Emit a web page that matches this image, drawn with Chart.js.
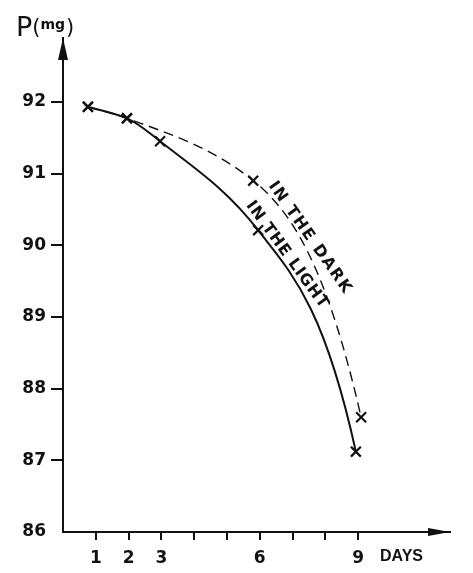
<!DOCTYPE html>
<html>
<head>
<meta charset="utf-8">
<script src="https://cdn.jsdelivr.net/npm/chart.js@4.4.1/dist/chart.umd.min.js"></script>
<style>
  html, body { margin: 0; padding: 0; background: #fff; }
  #wrap { width: 473px; height: 573px; position: relative; }
</style>
</head>
<body>
<div id="wrap"><canvas id="chart" width="473" height="573"></canvas></div>
<script>
// DATA
const lightDays = [0.76, 1.95, 2.96, 5.95, 8.93];
const lightMass = [91.93, 91.77, 91.45, 90.21, 87.12];
const darkDays = [0.76, 1.95, 5.8, 9.09];
const darkMass = [91.93, 91.77, 90.9, 87.6];
const dayTicks = [1, 2, 3, 4, 5, 6, 7, 8, 9];
const dayLabels = [1, 2, 3, 6, 9];
const massTicks = [86, 87, 88, 89, 90, 91, 92];

const INK = '#111';
const END_STEEPEN = 2.0; // hand-drawn curves bend down hard at the last point

// redo the bezier handles so the curves bow like the drawing
// (harmonic mean tangents inside, steeper tangent at the end)
const smoothCurves = {
  id: 'smoothCurves',
  beforeDatasetDraw(chart, args) {
    const line = args.meta.dataset;
    line.updateControlPoints(chart.chartArea);
    const pts = line.points;
    const n = pts.length;
    const sec = [];
    for (let i = 0; i < n - 1; i++) {
      sec.push((pts[i + 1].y - pts[i].y) / (pts[i + 1].x - pts[i].x));
    }
    const m = pts.map((p, i) => {
      if (i === 0) return sec[0];
      if (i === n - 1) return sec[n - 2] * END_STEEPEN;
      const a = sec[i - 1], b = sec[i];
      return a * b > 0 ? 2 * a * b / (a + b) : 0;
    });
    pts.forEach((p, i) => {
      if (i > 0) {
        const h = p.x - pts[i - 1].x;
        p.cp1x = p.x - h / 3;
        p.cp1y = p.y - m[i] * h / 3;
      }
      if (i < n - 1) {
        const h = pts[i + 1].x - p.x;
        p.cp2x = p.x + h / 3;
        p.cp2y = p.y + m[i] * h / 3;
      }
    });
  }
};

// axis arrows + axis titles + curve labels
const extras = {
  id: 'extras',
  afterDraw(chart) {
    const c = chart.ctx, a = chart.chartArea;
    c.save();
    c.fillStyle = INK;
    // y arrow
    c.beginPath();
    c.moveTo(a.left, a.top);
    c.lineTo(a.left - 5, a.top + 22);
    c.lineTo(a.left + 5, a.top + 22);
    c.closePath();
    c.fill();
    // x arrow
    c.beginPath();
    c.moveTo(a.right, a.bottom);
    c.lineTo(a.right - 22, a.bottom - 4);
    c.lineTo(a.right - 22, a.bottom + 4);
    c.closePath();
    c.fill();

    // P(mg)
    c.textBaseline = 'alphabetic';
    c.textAlign = 'left';
    let x = 16;
    c.font = '27px "DejaVu Sans"';
    c.fillText('P', x, 36);
    x += c.measureText('P').width;
    c.font = '21px "DejaVu Sans"';
    c.fillText('(', x, 34);
    x += c.measureText('(').width;
    c.font = 'bold 14px "DejaVu Sans"';
    c.fillText('mg', x, 29);
    x += c.measureText('mg').width + 1;
    c.font = '21px "DejaVu Sans"';
    c.fillText(')', x, 34);

    // DAYS
    c.font = 'bold 16px "Liberation Sans"';
    c.textBaseline = 'middle';
    c.fillText('DAYS', 380, 557);

    // curve labels
    const label = (txt, cx, cy, ang, spacing) => {
      c.save();
      c.translate(cx, cy);
      c.rotate(ang * Math.PI / 180);
      c.font = 'bold 16px "DejaVu Sans"';
      c.letterSpacing = spacing + 'px';
      c.textAlign = 'center';
      c.textBaseline = 'middle';
      c.fillText(txt, 0, 0);
      c.restore();
    };
    label('IN THE DARK', 310, 238, 55, 1.6);
    label('IN THE LIGHT', 287, 255, 54, 0.8);
    c.restore();
  }
};

new Chart(document.getElementById('chart'), {
  type: 'line',
  data: {
    datasets: [
      {
        label: 'In the light',
        data: lightDays.map((d, i) => ({ x: d, y: lightMass[i] })),
        borderColor: INK,
        borderWidth: 2,
        tension: 0.4,
        pointStyle: 'crossRot',
        pointRadius: 7,
        pointBorderWidth: 2.2,
        pointBorderColor: INK
      },
      {
        label: 'In the dark',
        data: darkDays.map((d, i) => ({ x: d, y: darkMass[i] })),
        borderColor: INK,
        borderWidth: 1.4,
        borderDash: [10, 6],
        tension: 0.4,
        pointStyle: 'crossRot',
        pointRadius: 7,
        pointBorderWidth: 2.2,
        pointBorderColor: INK
      }
    ]
  },
  options: {
    responsive: false,
    animation: false,
    devicePixelRatio: 1,
    layout: { padding: { top: 38, right: 23, left: 0, bottom: 0 } },
    plugins: { legend: { display: false }, tooltip: { enabled: false } },
    scales: {
      x: {
        type: 'linear',
        min: 0,
        max: 11.8,
        afterFit: s => { s.height = 41; },
        afterBuildTicks: s => { s.ticks = dayTicks.map(v => ({ value: v })); },
        border: { display: true, color: INK, width: 2 },
        grid: { drawOnChartArea: false, drawTicks: true, tickLength: 8, color: INK, lineWidth: 2 },
        ticks: {
          autoSkip: false,
          maxRotation: 0,
          padding: 8,
          color: INK,
          font: { family: 'DejaVu Sans', size: 17, weight: 'bold' },
          callback: v => dayLabels.includes(v) ? String(v) : ''
        }
      },
      y: {
        min: 86,
        max: 92.89,
        afterFit: s => { s.width = 63; },
        afterBuildTicks: s => { s.ticks = massTicks.map(v => ({ value: v })); },
        border: { display: true, color: INK, width: 2 },
        grid: {
          drawOnChartArea: false, drawTicks: true, tickLength: 12, lineWidth: 2,
          color: ctx => (ctx.tick && ctx.tick.value === 86) ? 'rgba(0,0,0,0)' : INK
        },
        ticks: {
          autoSkip: false,
          padding: 5,
          color: INK,
          font: { family: 'DejaVu Sans', size: 17, weight: 'bold' },
          callback: v => String(v)
        }
      }
    }
  },
  plugins: [smoothCurves, extras]
});
</script>
</body>
</html>
